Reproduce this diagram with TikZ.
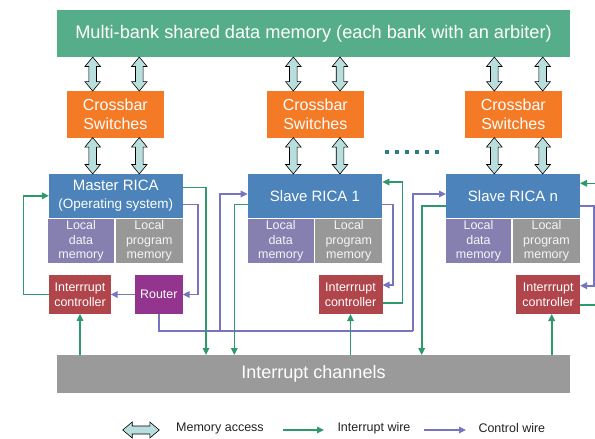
\documentclass[tikz,border=0pt]{standalone}
\usepackage{fontspec}
\setmainfont{Liberation Sans}
\usetikzlibrary{arrows.meta,calc}
\definecolor{memgreen}{HTML}{55AE89}
\definecolor{xbarorange}{HTML}{F47A26}
\definecolor{ricablue}{HTML}{4B83BA}
\definecolor{ldmcol}{HTML}{8580B0}
\definecolor{lpmcol}{HTML}{989898}
\definecolor{iccol}{HTML}{B0454B}
\definecolor{routercol}{HTML}{93348F}
\definecolor{chancol}{HTML}{9A9A9A}
\definecolor{wgreen}{HTML}{2E9A6C}
\definecolor{wpurple}{HTML}{7775C0}
\definecolor{arrfill}{HTML}{B8DEDD}
\definecolor{dotcol}{HTML}{2F7B84}
\definecolor{legtext}{HTML}{222222}
\newcommand\memlink[3]{%
  \draw[memarr] let \p1=(#2), \p2=(#3) in
    ({#1pt},\y1) -- ({#1pt+7.8pt},{\y1-9.5pt}) -- ({#1pt+3.8pt},{\y1-9.5pt})
    -- ({#1pt+3.8pt},{\y2+9.5pt}) -- ({#1pt+7.8pt},{\y2+9.5pt}) -- ({#1pt},\y2)
    -- ({#1pt-7.8pt},{\y2+9.5pt}) -- ({#1pt-3.8pt},{\y2+9.5pt})
    -- ({#1pt-3.8pt},{\y1-9.5pt}) -- ({#1pt-7.8pt},{\y1-9.5pt}) -- cycle;}
\tikzset{
  blk/.style={rectangle, draw=none, inner sep=0pt, outer sep=0pt, text=white, align=center},
  xbar/.style={blk, fill=xbarorange, minimum width=97pt, minimum height=46.5pt, font={\fontsize{16}{19}\selectfont}},
  rica/.style={blk, fill=ricablue, minimum height=43.7pt, font={\fontsize{15}{18.4}\selectfont}},
  ldm/.style={blk, fill=ldmcol, minimum height=43.7pt, text=white!92!gray, font={\fontsize{12.5}{14.3}\selectfont}},
  lpm/.style={blk, fill=lpmcol, minimum height=43.7pt, text=white!92!gray, font={\fontsize{12.5}{14.3}\selectfont}},
  ictl/.style={blk, fill=iccol, minimum height=39pt, font={\fontsize{12.5}{15}\selectfont}},
  gw/.style={draw=wgreen, line width=1.6pt, -{Triangle[length=7pt,width=6.5pt]}},
  pw/.style={draw=wpurple, line width=1.6pt, -{Triangle[length=7pt,width=6.5pt]}},
  memarr/.style={draw=black, line width=0.6pt, fill=arrfill, line join=miter},
  legend/.style={anchor=west, inner sep=0pt, text=legtext, font={\fontsize{12.5}{15}\selectfont}},
  dotsq/.style={fill=dotcol}
}
\begin{document}
\begin{tikzpicture}[x=1pt,y=-1pt]
\fill[white] (0,0) rectangle (595,439);
\useasboundingbox (0,0) rectangle (595,439);

% shared memory
\node[blk, fill=memgreen, minimum width=513pt, minimum height=47pt, font={\fontsize{18.2}{22}\selectfont}] (mem) at (313.5,33.5) {Multi-bank shared data memory (each bank with an arbiter)};

% crossbars
\node[xbar] (cb1) at (115.3,114.3) {Crossbar\\Switches};
\node[xbar] (cb2) at (315.3,114.3) {Crossbar\\Switches};
\node[xbar] (cb3) at (513.3,114.3) {Crossbar\\Switches};

% RICAs
\node[rica, minimum width=133.7pt] (rica0) at (115.8,195.8) {Master RICA\\{\fontsize{13.5}{18.4}\selectfont (Operating system)}};
\node[rica, minimum width=134.6pt] (rica1) at (315,195.8) {Slave RICA 1};
\node[rica, minimum width=134pt] (rican) at (513,195.8) {Slave RICA n};

% local memories
\node[ldm, minimum width=65.4pt] (ldm0) at (81,240.8) {Local\\data\\memory};
\node[lpm, minimum width=66.7pt] (lpm0) at (149.3,240.8) {Local\\program\\memory};
\node[ldm, minimum width=66pt] (ldm1) at (280.7,240.8) {Local\\data\\memory};
\node[lpm, minimum width=67pt] (lpm1) at (348.8,240.8) {Local\\program\\memory};
\node[ldm, minimum width=65pt] (ldmn) at (478.5,240.8) {Local\\data\\memory};
\node[lpm, minimum width=67pt] (lpmn) at (546.5,240.8) {Local\\program\\memory};

% interrupt controllers and router
\node[ictl, minimum width=61.4pt] (ic0) at (80,294.3) {Interrrupt\\controller};
\node[blk, fill=routercol, minimum width=47.7pt, minimum height=39pt, font={\fontsize{12.4}{15}\selectfont}] (router) at (158.8,294.5) {Router};
\node[ictl, minimum width=64pt] (ic1) at (350.5,294.5) {Interrrupt\\controller};
\node[ictl, minimum width=63.7pt] (icn) at (548.2,294.5) {Interrrupt\\controller};

% interrupt channels
\node[blk, fill=chancol, minimum width=513pt, minimum height=38pt, font={\fontsize{18}{22}\selectfont}] (chan) at (313.5,374) {Interrupt channels};

% memory access arrows
\memlink{92.7}{mem.south}{cb1.north}
\memlink{139.3}{mem.south}{cb1.north}
\memlink{92.7}{cb1.south}{rica0.north}
\memlink{139.3}{cb1.south}{rica0.north}
\memlink{293.3}{mem.south}{cb2.north}
\memlink{340}{mem.south}{cb2.north}
\memlink{293.3}{cb2.south}{rica1.north}
\memlink{340}{cb2.south}{rica1.north}
\memlink{494.3}{mem.south}{cb3.north}
\memlink{542.7}{mem.south}{cb3.north}
\memlink{494.3}{cb3.south}{rican.north}
\memlink{542.7}{cb3.south}{rican.north}

% dots
\foreach \i in {0,...,5} {
  \fill[dotsq] ({384.7+10*\i},150) rectangle ++(4,4);
}

% control wires (purple)
\coordinate (pA) at (220,331);
\coordinate (pB) at (413,331);
\draw[pw] ($(rica0.east)+(0,8.5)$) -- ++(15.6,0) |- (router.east);
\draw[pw] (router.west) -- (router.west -| ic0.east);
\draw[pw,-] (router.south) |- (pB);
\draw[pw] (pB) |- ($(rican.west)+(0,-1.8)$);
\draw[pw] (pA) |- ($(rica1.west)+(0,-1.8)$);
\draw[pw] ($(rica1.east)+(0,8.5)$) -- ++(10.4,0) |- ($(ic1.east)+(0,-9.5)$);
\draw[pw] ($(rican.east)+(0,10.2)$) -- ++(13.7,0) |- ($(icn.east)+(0,-8.8)$);

% interrupt wires (green)
\coordinate (rightA) at (595,304.7);
\coordinate (rightB) at (595,183.3);
\draw[gw] (ic0.west) -- ++(-26,0) |- (rica0.west);
\draw[gw] ($(rica0.east)+(0,-8.5)$) -| ($(chan.north)+(-107.5,0)$);
\draw[gw] (chan.north -| ic0.south) -- (ic0.south);
\draw[gw] ($(rica1.west)+(0,8.5)$) -| ($(chan.north)+(-79.2,0)$);
\draw[gw] (chan.north -| ic1.south) -- (ic1.south);
\draw[gw] ($(ic1.east)+(0,8.2)$) -- ++(20,0) |- ($(rica1.east)+(0,-13.8)$);
\draw[gw] ($(rican.west)+(0,10.2)$) -| ($(chan.north)+(108.2,0)$);
\draw[gw] ($(chan.north)+(238.2,0)$) -- ($(icn.south)+(3.5,0)$);
\draw[gw,-] ($(icn.east)+(0,10.2)$) -- (rightA);
\draw[gw] (rightB) -- (rightB -| rican.east);

% legend
\draw[memarr] (122.7,430) -- (132.2,422) -- (132.2,426) -- (149.8,426) -- (149.8,422) -- (159.3,430)
  -- (149.8,438) -- (149.8,434) -- (132.2,434) -- (132.2,438) -- cycle;
\node[legend] (lt1) at (176,428) {Memory access};
\coordinate (lg1) at (282.7,430);
\coordinate (lg2) at (324,430);
\draw[gw] (lg1) -- (lg2);
\node[legend] (lt2) at (337.3,428) {Interrupt wire};
\coordinate (lp1) at (424.3,430);
\coordinate (lp2) at (466,430);
\draw[pw] (lp1) -- (lp2);
\node[legend] (lt3) at (478.3,428) {Control wire};
\end{tikzpicture}
\end{document}
